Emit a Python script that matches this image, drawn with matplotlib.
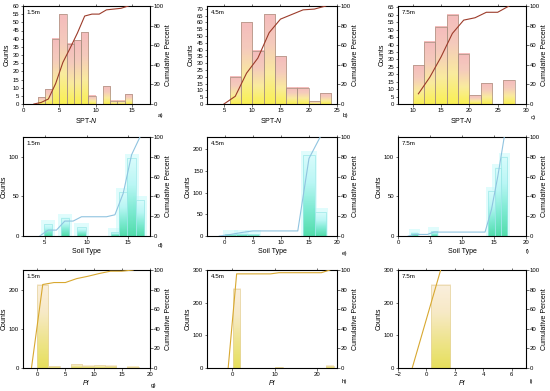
import numpy as np
import matplotlib
matplotlib.use('Agg')
import matplotlib.pyplot as plt
from matplotlib.colors import LinearSegmentedColormap

plt.rcParams['font.family'] = ['Liberation Sans', 'DejaVu Sans']
plt.rcParams['mathtext.fontset'] = 'custom'
plt.rcParams['mathtext.rm'] = 'Liberation Sans'
plt.rcParams['mathtext.it'] = 'Liberation Sans:italic'

# ---- data (bin centres and counts) ----
spt_15_x = [2.5, 3.5, 4.5, 5.5, 6.5, 7.5, 8.5, 9.5, 10.5, 11.5, 12.5, 13.5, 14.5]
spt_15_n = [4, 9, 40, 55, 37, 39, 44, 5, 0, 11, 2, 2, 6]
spt_45_x = [7, 9, 11, 13, 15, 17, 19, 21, 23]
spt_45_n = [20, 60, 39, 66, 35, 12, 12, 2, 8]
spt_75_x = [11, 13, 15, 17, 19, 21, 23, 25, 27]
spt_75_n = [26, 42, 52, 60, 34, 6, 14, 0, 16]

soil_15_x = [5.4, 6.4, 7.4, 8.4, 9.4, 10.4, 11.4, 12.4, 13.4, 14.4, 15.4, 16.4]
soil_15_n = [15, 0, 23, 0, 11, 0, 0, 0, 5, 55, 98, 45]
soil_45_x = [1, 3, 5, 7, 9, 11, 13, 15, 17]
soil_45_n = [4, 5, 4, 0, 0, 0, 0, 186, 55]
soil_75_x = [2.6, 3.6, 4.6, 5.6, 6.6, 7.6, 8.6, 9.6, 10.6, 11.6, 12.6, 13.6, 14.6, 15.6, 16.6]
soil_75_n = [4, 0, 0, 6, 0, 0, 0, 0, 0, 0, 0, 0, 57, 86, 100]

pi_15_x = [1, 3, 5, 7, 9, 11, 13, 15, 17]
pi_15_n = [213, 5, 0, 10, 6, 7, 6, 0, 3]
pi_45_x = [1, 3, 5, 7, 9, 11, 13, 15, 17, 19, 21, 23]
pi_45_n = [243, 0, 0, 0, 0, 3, 0, 0, 0, 0, 0, 7]
pi_75_x = [1]
pi_75_n = [255]

depths = ['1.5m', '4.5m', '7.5m']
letters = ['a)', 'b)', 'c)', 'd)', 'e)', 'f)', 'g)', 'h)', 'i)']

W, H = 550, 391
fig = plt.figure(figsize=(W / 100, H / 100), dpi=100)

cols = [(23, 150), (207, 337), (398, 526)]
rows = [(6, 104), (137, 236), (270, 368)]

styles = {
    'spt': dict(colors=['#f8ef34', '#f9e88c', '#f4c2b0', '#f2b0b0'], edge='#a89080',
                line='#9c3b2a', xlabel=r'SPT-$\mathit{N}$', glow=None),
    'soil': dict(colors=['#38d89c', '#6ee8cc', '#b4f6f4', '#d8fcfc'], edge='#9ce8e8',
                 line='#90c4e0', xlabel='Soil Type', glow='#c8fafa'),
    'pi': dict(colors=['#e2da3e', '#ece07a', '#f6e6bc', '#faecd8'], edge='#e6d4a0',
               line='#d8a830', xlabel='PI', glow=None),
}


def panel(r, c, kind, x, n, width, xlim, ylim, xticks, yticks, zero_start=True, step=None):
    st = styles[kind]
    l, rr = cols[c]
    t, b = rows[r]
    ax = fig.add_axes([l / W, 1 - b / H, (rr - l) / W, (b - t) / H])
    cmap = LinearSegmentedColormap.from_list(kind, st['colors'])
    grad = np.linspace(0, 1, 128).reshape(-1, 1)

    if st['glow']:
        ax.bar(x, np.array(n) + ylim[1] * 0.04 * (np.array(n) > 0), width=width + 0.7,
               color=st['glow'], alpha=0.55, zorder=1, linewidth=0)
    bars = ax.bar(x, n, width=width, facecolor='none', edgecolor=st['edge'],
                  linewidth=0.5, zorder=3)
    for p in bars:
        if p.get_height() <= 0:
            continue
        ax.imshow(grad, extent=[p.get_x(), p.get_x() + p.get_width(), 0, p.get_height()],
                  origin='lower', aspect='auto', cmap=cmap, alpha=0.85, zorder=2)

    ax.set_xlim(xlim)
    ax.set_ylim(ylim)
    ax.set_xticks(xticks)
    ax.set_yticks(yticks)
    ax.tick_params(labelsize=4.3, length=1.8, width=0.4, pad=1, top=True)
    for s in ax.spines.values():
        s.set_linewidth(0.6)
    if kind == 'pi':
        ax.set_xlabel(st['xlabel'], fontsize=5, labelpad=2, fontstyle='italic')
    else:
        ax.set_xlabel(st['xlabel'], fontsize=5, labelpad=2)
    ax.set_ylabel('Counts', fontsize=5, labelpad=1)
    ax.text(0.03, 0.96, depths[c], transform=ax.transAxes, fontsize=4.5, va='top')

    # cumulative percent line
    ax2 = ax.twinx()
    cum = list(np.cumsum(n) / np.sum(n) * 100)
    xs = list(x)
    if zero_start:
        if step is None:
            step = x[1] - x[0]
        xs = [x[0] - step] + xs
        cum = [0] + cum
    ax2.plot(xs, cum, color=st['line'], linewidth=0.8, zorder=5)
    ax2.set_ylim(0, 100)
    ax2.set_yticks([0, 20, 40, 60, 80, 100])
    ax2.tick_params(labelsize=4.3, length=1.8, width=0.4, pad=1)
    ax2.set_ylabel('Cumulative Percent', fontsize=5, labelpad=1)
    return ax


panel(0, 0, 'spt', spt_15_x, spt_15_n, 1, (0, 17.5), (0, 60), [0, 5, 10, 15], np.arange(0, 61, 5))
panel(0, 1, 'spt', spt_45_x, spt_45_n, 2, (2, 25), (0, 72), [5, 10, 15, 20, 25], np.arange(0, 71, 5))
panel(0, 2, 'spt', spt_75_x, spt_75_n, 2, (7.4, 30), (0, 66), [10, 15, 20, 25, 30], np.arange(0, 66, 5),
      zero_start=False)

panel(1, 0, 'soil', soil_15_x, soil_15_n, 1, (2.4, 17.6), (0, 125), [5, 10, 15], [0, 50, 100])
panel(1, 1, 'soil', soil_45_x, soil_45_n, 2, (-3.2, 20), (0, 228), [0, 5, 10, 15, 20], [0, 50, 100, 150, 200])
panel(1, 2, 'soil', soil_75_x, soil_75_n, 1, (0, 20), (0, 125), [0, 5, 10, 15, 20], [0, 50, 100])

panel(2, 0, 'pi', pi_15_x, pi_15_n, 2, (-2.5, 20), (0, 250), [0, 5, 10, 15, 20], [0, 100, 200])
panel(2, 1, 'pi', pi_45_x, pi_45_n, 1.75, (-6, 24.7), (0, 300), [0, 10, 20], [0, 100, 200, 300])
panel(2, 2, 'pi', pi_75_x, pi_75_n, 1.35, (-2, 7), (0, 300), [-2, 0, 2, 4, 6], [0, 100, 200, 300],
      step=2)

label_pos = [(161, 116), (345, 116), (533, 117),
             (161, 245), (345, 254), (528, 252),
             (154, 386), (344, 382), (531, 382)]
for txt, (px, py) in zip(letters, label_pos):
    fig.text(px / W, 1 - py / H, txt, fontsize=4.5, ha='center', va='center')

fig.savefig('out.png', dpi=100)
